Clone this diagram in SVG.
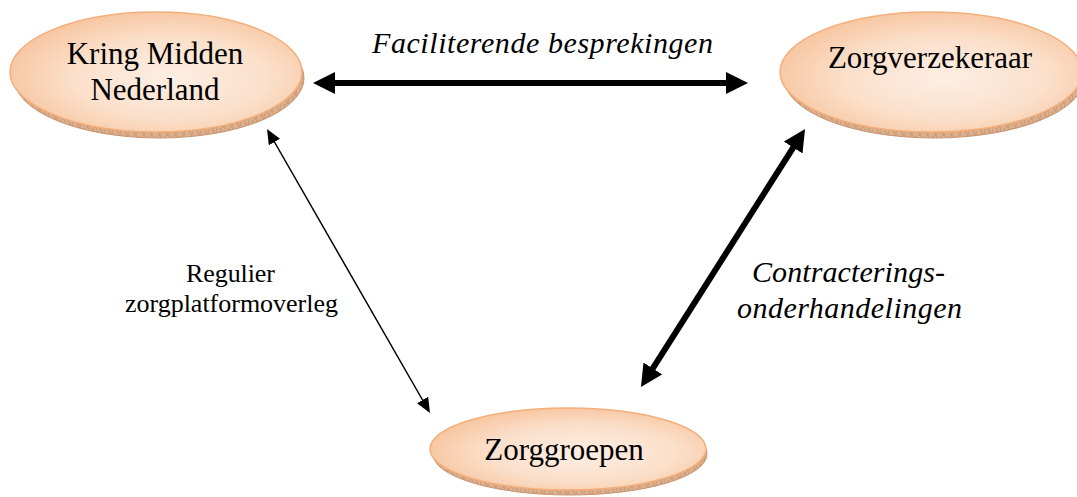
<svg xmlns="http://www.w3.org/2000/svg" width="1077" height="497" viewBox="0 0 1077 497">
  <style>
    .face { fill: url(#peach); stroke: #f3ae7a; stroke-width: 1.5; }
    .rim { fill: url(#hatch); stroke: #c99370; stroke-width: 1; }
    .lbl { font-family: "Liberation Serif", "Times New Roman", serif; font-size: 31px; fill: #000; text-anchor: middle; }
    .ital { font-family: "Liberation Serif", "Times New Roman", serif; font-size: 30px; font-style: italic; fill: #000; }
    .small { font-family: "Liberation Serif", "Times New Roman", serif; font-size: 26px; fill: #000; }
    .thick { stroke: #000; stroke-width: 6; fill: none; marker-start: url(#bigHead); marker-end: url(#bigHead); }
    .thin { stroke: #000; stroke-width: 1.5; fill: none; marker-start: url(#smallHead); marker-end: url(#smallHead); }
  </style>
  <defs>
    <radialGradient id="peach" cx="0.55" cy="0.55" r="0.6">
      <stop offset="0" stop-color="#fdeee3"/>
      <stop offset="0.55" stop-color="#fbe0cb"/>
      <stop offset="1" stop-color="#f7c39c"/>
    </radialGradient>
    <pattern id="hatch" width="8" height="8" patternUnits="userSpaceOnUse">
      <rect width="8" height="8" fill="#dcae8c"/>
      <path d="M0,0 L0,8 M4,0 L8,8" stroke="#b78a6a" stroke-width="0.8"/>
    </pattern>
    <marker id="bigHead" viewBox="0 0 22 22" refX="10" refY="11" markerWidth="22" markerHeight="22" markerUnits="userSpaceOnUse" orient="auto-start-reverse">
      <path d="M0,0 L22,11 L0,22 z" fill="#000"/>
    </marker>
    <marker id="smallHead" viewBox="0 0 15 13" refX="11" refY="6.5" markerWidth="15" markerHeight="13" markerUnits="userSpaceOnUse" orient="auto-start-reverse">
      <path d="M0,0 L15,6.5 L0,13 z" fill="#000"/>
    </marker>
  </defs>

  <g id="connectors">
    <line class="thick" x1="325" y1="83" x2="736" y2="83"/>
    <line class="thick" x1="798.6" y1="139.1" x2="647.4" y2="376.9"/>
    <line class="thin" x1="269" y1="132.5" x2="428" y2="409.5"/>
  </g>

  <g id="node-kring">
    <ellipse class="rim" cx="159" cy="78" rx="145" ry="60"/>
    <ellipse class="face" cx="156" cy="72" rx="146" ry="60"/>
    <text class="lbl" x="155" y="64">Kring Midden</text>
    <text class="lbl" x="155" y="100">Nederland</text>
  </g>

  <g id="node-zorgverzekeraar">
    <ellipse class="rim" cx="934" cy="78" rx="150" ry="60"/>
    <ellipse class="face" cx="931" cy="72" rx="151" ry="60"/>
    <text class="lbl" x="930" y="68">Zorgverzekeraar</text>
  </g>

  <g id="node-zorggroepen">
    <ellipse class="rim" cx="570" cy="454" rx="137" ry="41"/>
    <ellipse class="face" cx="568" cy="449" rx="138" ry="41"/>
    <text class="lbl" x="564" y="460">Zorggroepen</text>
  </g>

  <g id="labels">
    <text class="ital" x="372" y="53" textLength="341" lengthAdjust="spacing">Faciliterende besprekingen</text>
    <text class="ital" x="752" y="282" textLength="193" lengthAdjust="spacing">Contracterings-</text>
    <text class="ital" x="737" y="318" textLength="225" lengthAdjust="spacing">onderhandelingen</text>
    <text class="small" x="186" y="282" textLength="89" lengthAdjust="spacing">Regulier</text>
    <text class="small" x="125" y="312" textLength="213" lengthAdjust="spacing">zorgplatformoverleg</text>
  </g>
</svg>
